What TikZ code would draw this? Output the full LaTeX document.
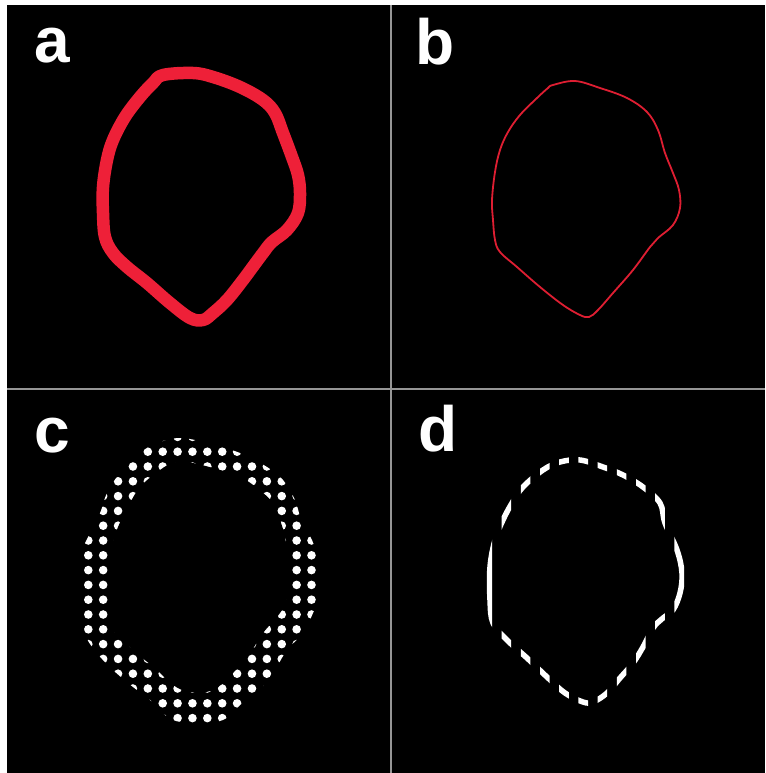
\documentclass[tikz,border=0pt]{standalone}
\usepackage{fontspec}
\setmainfont{Liberation Sans}
\definecolor{reda}{RGB}{238,32,56}
\definecolor{redb}{RGB}{222,30,50}
\definecolor{sepgray}{RGB}{150,150,150}
\tikzset{
  lbl/.style={text=white,font=\bfseries\fontsize{64}{64}\selectfont,anchor=base west,inner sep=0pt},
  sepline/.style={draw=sepgray,line width=2pt},
  dotc/.style={fill=white},
}
\begin{document}
\begin{tikzpicture}[x=1pt,y=-1pt]
\useasboundingbox (0,0) rectangle (765,773);
\fill[white] (0,0) rectangle (765,773);
\fill[black] (7,5) rectangle (765,773);
% separators
\draw[sepline] (391,5) -- (391,773);
\draw[sepline] (7,389) -- (765,389);
% labels
\node[lbl] (la) at (34,63) {a};
\node[lbl] (lb) at (415,65) {b};
\node[lbl] (lc) at (34,452) {c};
\node[lbl] (ld) at (418,451) {d};
% panel a
\draw[reda,line width=12.5pt,line join=round] plot[smooth cycle,tension=0.6] coordinates {
(163,75) (193,73) (213,77) (240,87) (263,100) (275,113) (283,133) (292,157) (298,175) (300,193) (298,213) (287,230) (272,242) (263,253) (243,280) (227,300) (213,313) (203,320) (190,318) (170,303) (147,283) (127,267) (113,253) (105,237) (103,213) (103,187) (107,160) (113,140) (125,117) (140,97) (153,83)};
% panel b
\draw[redb,line width=1.8pt,line join=round] plot[smooth cycle,tension=0.6] coordinates {
(553,85) (575,81) (600,88) (627,98) (647,112) (658,130) (665,153) (673,173) (679,190) (680,208) (673,225) (658,238) (650,247) (633,270) (613,293) (598,310) (589,317) (580,315) (563,305) (540,287) (517,267) (500,252) (495,240) (493,220) (492,200) (495,172) (500,150) (508,132) (520,115) (537,98) (548,88)};
% panel c
\begin{scope}
\clip plot[smooth cycle,tension=0.6] coordinates {
(180,438) (207,443) (240,453) (267,467) (283,480) (295,500) (302,523) (312,540) (317,560) (317,600) (313,613) (303,633) (287,650) (273,673) (257,693) (240,705) (227,718) (207,723) (173,720) (150,700) (133,687) (113,670) (97,653) (85,633) (83,597) (83,553) (88,537) (100,513) (107,493) (120,473) (140,453) (157,443)};
\foreach \i in {-1,...,17} {
  \foreach \j in {-1,...,19} {
    \fill[dotc] ({88.3+14.88*\i},{451.7+14.8*\j}) circle (4.3);
  }
}
\fill[black] plot[smooth cycle,tension=0.6] coordinates {
(187,462) (213,468) (240,477) (257,488) (273,503) (280,520) (285,537) (287,557) (287,597) (280,613) (263,633) (250,653) (233,673) (213,690) (190,692) (173,685) (157,670) (133,650) (113,630) (110,613) (110,580) (112,547) (118,527) (128,507) (140,487) (160,470) (173,463)};
\end{scope}
% panel d
\begin{scope}
\clip \foreach \k in {-4,...,8} {({540+19.2*\k},400) rectangle ({549.6+19.2*\k},760)};
\draw[white,line width=5.5pt] plot[smooth cycle,tension=0.6] coordinates {
(560,462) (580,460) (603,467) (623,475) (643,487) (660,503) (665,523) (677,550) (682,573) (680,593) (673,610) (663,618) (653,628) (643,647) (633,663) (620,678) (607,693) (593,702) (583,702) (565,693) (547,677) (527,658) (507,640) (493,623) (490,600) (490,567) (495,540) (503,520) (512,503) (523,487) (543,470)};
\end{scope}
\end{tikzpicture}
\end{document}
